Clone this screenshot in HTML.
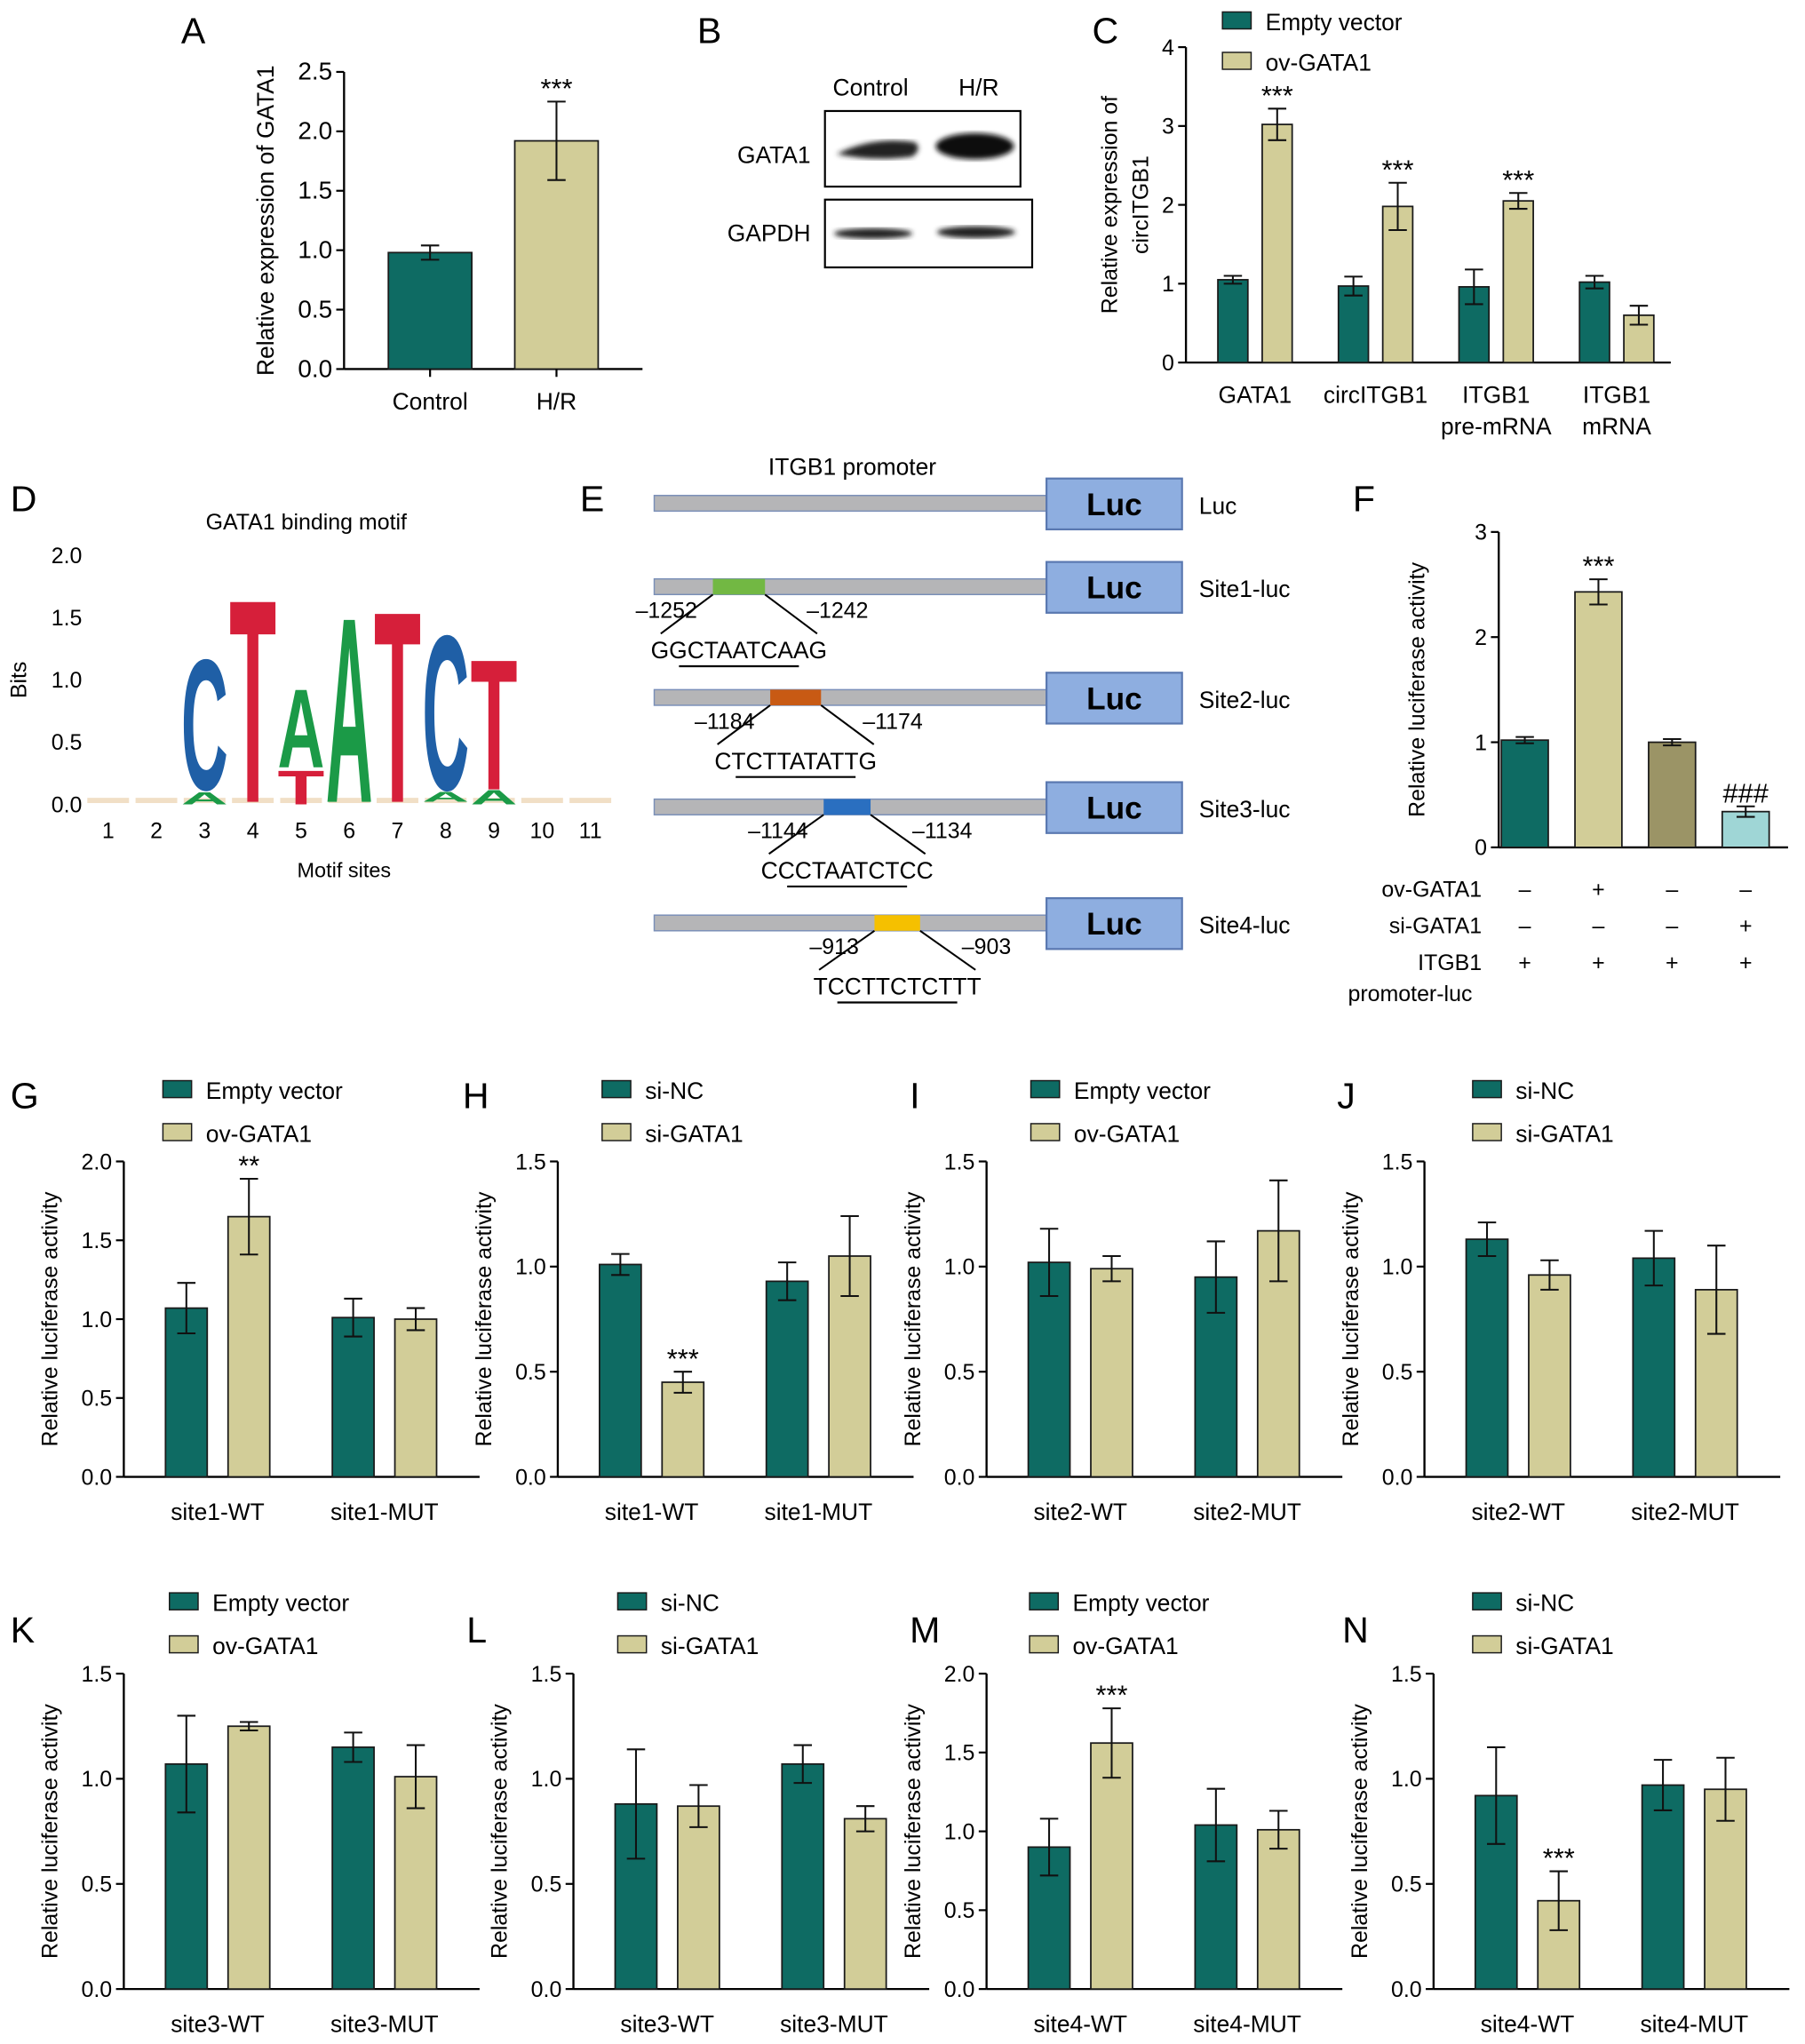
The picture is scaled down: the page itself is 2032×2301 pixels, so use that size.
<!DOCTYPE html>
<html><head><meta charset="utf-8"><style>
html,body{margin:0;padding:0;background:#fff;}
svg{display:block;font-family:"Liberation Sans",Arial,sans-serif;}
</style></head><body>
<svg id="fig" width="2032" height="2301" viewBox="0 0 1385 1568" xmlns="http://www.w3.org/2000/svg">
<rect width="1385" height="1568" fill="#fff"/>
<g>
<text x="535" y="33" font-size="28">B</text>
<text x="668" y="73" font-size="18" text-anchor="middle">Control</text>
<text x="751" y="73" font-size="18" text-anchor="middle">H/R</text>
<text x="622" y="125" font-size="18" text-anchor="end">GATA1</text>
<text x="622" y="185" font-size="18" text-anchor="end">GAPDH</text>
<rect x="633" y="85" width="150" height="58" fill="#fff" stroke="#000" stroke-width="1.5"/>
<rect x="633" y="153" width="159" height="52" fill="#fff" stroke="#000" stroke-width="1.5"/>
<defs><filter id="bl"><feGaussianBlur stdDeviation="2"/></filter></defs>
<path d="M642,118 Q670,104 702,109 Q708,114 700,120 Q670,124 642,118Z" fill="#222" filter="url(#bl)"/>
<ellipse cx="748" cy="112" rx="30" ry="10" fill="#111" filter="url(#bl)"/>
<ellipse cx="670" cy="179" rx="30" ry="4" fill="#222" filter="url(#bl)"/>
<ellipse cx="749" cy="178" rx="30" ry="4.5" fill="#222" filter="url(#bl)"/>
</g>
<g id="charts"></g>
</svg>
<script>
const NS="http://www.w3.org/2000/svg";
const root=document.getElementById('charts');
const TEAL="#0e6b63",KHAKI="#d2cd98",OLIVE="#9b9466",LBLUE="#9fd6d6";

// ---- Panel A data
const aCats=["Control","H/R"];
const aVals=[0.98,1.92];
const aErrs=[0.06,0.33];
const aStars=["","***"];
// ---- Panel C data
const cCats=["GATA1","circITGB1","ITGB1\npre-mRNA","ITGB1\nmRNA"];
const cEmpty=[1.05,0.97,0.96,1.02];
const cEmptyErr=[0.05,0.12,0.22,0.08];
const cOv=[3.02,1.98,2.05,0.6];
const cOvErr=[0.2,0.3,0.1,0.12];
const cStars=["***","***","***",""];
// ---- Panel F data
const fVals=[1.02,2.43,1.0,0.34];
const fErrs=[0.03,0.12,0.03,0.05];
const fMarks=["","***","","###"];
const fOv=["–","+","–","–"];
const fSi=["–","–","–","+"];
const fProm=["+","+","+","+"];
// ---- Panels G-N data
const gCats=["site1-WT","site1-MUT"],gA=[1.07,1.01],gAe=[0.16,0.12],gB=[1.65,1.0],gBe=[0.24,0.07],gS=["**",""];
const hCats=["site1-WT","site1-MUT"],hA=[1.01,0.93],hAe=[0.05,0.09],hB=[0.45,1.05],hBe=[0.05,0.19],hS=["***",""];
const iCats=["site2-WT","site2-MUT"],iA=[1.02,0.95],iAe=[0.16,0.17],iB=[0.99,1.17],iBe=[0.06,0.24],iS=["",""];
const jCats=["site2-WT","site2-MUT"],jA=[1.13,1.04],jAe=[0.08,0.13],jB=[0.96,0.89],jBe=[0.07,0.21],jS=["",""];
const kCats=["site3-WT","site3-MUT"],kA=[1.07,1.15],kAe=[0.23,0.07],kB=[1.25,1.01],kBe=[0.02,0.15],kS=["",""];
const lCats=["site3-WT","site3-MUT"],lA=[0.88,1.07],lAe=[0.26,0.09],lB=[0.87,0.81],lBe=[0.1,0.06],lS=["",""];
const mCats=["site4-WT","site4-MUT"],mA=[0.9,1.04],mAe=[0.18,0.23],mB=[1.56,1.01],mBe=[0.22,0.12],mS=["***",""];
const nCats=["site4-WT","site4-MUT"],nA=[0.92,0.97],nAe=[0.23,0.12],nB=[0.42,0.95],nBe=[0.14,0.15],nS=["***",""];
// ---- Panel D motif data
const motifPos=[1,2,3,4,5,6,7,8,9,10,11];
const motifLetters=[["C",3,0.12,1.2],["T",4,0.02,1.7],["A",5,0.3,0.95],["T",5,0.0,0.28],["A",6,0.02,1.55],["T",7,0.02,1.6],["C",8,0.12,1.4],["T",9,0.12,1.2],["A",9,0.0,0.12],["A",3,0.0,0.1],["A",8,0.02,0.1]];
const motifTicks=[0,0.5,1.0,1.5,2.0];

function el(tag,attrs,parent,text){const e=document.createElementNS(NS,tag);for(const k in attrs)e.setAttribute(k,attrs[k]);if(text!==undefined)e.textContent=text;(parent||root).appendChild(e);return e;}
function fmt(v,d){return v.toFixed(d);}

function axes(g,o){
  const ys=v=>o.y0-v/o.max*(o.y0-o.ytop);
  el('line',{x1:o.ax,y1:o.y0,x2:o.ax,y2:o.ytop,stroke:'#000','stroke-width':1.6},g);
  el('line',{x1:o.ax,y1:o.y0,x2:o.x1,y2:o.y0,stroke:'#000','stroke-width':1.6},g);
  for(let v=0;v<=o.max+1e-9;v+=o.step){
    el('line',{x1:o.ax-6,y1:ys(v),x2:o.ax,y2:ys(v),stroke:'#000','stroke-width':1.5},g);
    const t=el('text',{x:o.ax-9,y:ys(v)+6,'font-size':o.tfs||17,'text-anchor':'end'},g,fmt(v,o.dec));
    
    
  }
  const lines=o.ylabel.split("\n");
  lines.forEach((ln,i)=>{
    const lx=o.ylx+i*24, ly=(o.y0+o.ytop)/2;
    const t=el('text',{x:lx,y:ly,'font-size':o.lfs||17,'text-anchor':'middle',transform:`rotate(-90 ${lx} ${ly})`},g,ln);
    
    
  });
  return ys;
}
function bar(g,ys,cx,w,v,e,color,star){
  const r=el('rect',{x:cx-w/2,y:ys(v),width:w,height:ys(0)-ys(v),fill:color,stroke:'#1a1a1a','stroke-width':1.2},g);
  
  
  if(e>0){
    el('line',{x1:cx,y1:ys(v-e),x2:cx,y2:ys(v+e),stroke:'#111','stroke-width':1.4},g);
    el('line',{x1:cx-7,y1:ys(v+e),x2:cx+7,y2:ys(v+e),stroke:'#111','stroke-width':1.4},g);
    el('line',{x1:cx-7,y1:ys(v-e),x2:cx+7,y2:ys(v-e),stroke:'#111','stroke-width':1.4},g);
  }
  if(star){
    const t=el('text',{x:cx,y:ys(v+e)-3,'font-size':21,'text-anchor':'middle'},g,star);
    
    
  }
}
function letter(x,y,L,name){
  const t=el('text',{x:x,y:y,'font-size':28},root,L);
  
  
}
function legend(g,x,y1,y2,l1,l2){
  [[y1,TEAL,l1],[y2,KHAKI,l2]].forEach(([y,c,l])=>{
    const r=el('rect',{x:x,y:y-7,width:22,height:13,fill:c,stroke:'#1a1a1a','stroke-width':1},g);
    
    
    const t=el('text',{x:x+33,y:y+7,'font-size':18},g,l);
    
    
  });
}

// Panel A
(function(){
  const g=el('g',{});
  
  
  letter(139,33,'A','panel-letter-a');
  const o={ax:264,x1:493,y0:283,ytop:55,max:2.5,step:0.5,dec:1,ylabel:"Relative expression of GATA1",ylx:210,tfs:19,lfs:18};
  const ys=axes(g,o);
  aVals.forEach((v,i)=>{
    const cx=o.ax+66+i*97;
    bar(g,ys,cx,64,v,aErrs[i],i?KHAKI:TEAL,aStars[i]);
    el('line',{x1:cx,y1:o.y0,x2:cx,y2:o.y0+6,stroke:'#000','stroke-width':1.5},g);
    const t=el('text',{x:cx,y:o.y0+31,'font-size':18,'text-anchor':'middle'},g,aCats[i]);
    
    
  });
})();

// Panel C
(function(){
  const g=el('g',{});
  
  
  letter(838,33,'C','panel-letter-c');
  const o={ax:910,x1:1282,y0:278,ytop:36,max:4,step:1,dec:0,ylabel:"Relative expression of\ncircITGB1",ylx:857};
  const ys=axes(g,o);
  legend(g,938,16,47,"Empty vector","ov-GATA1");
  cCats.forEach((c,i)=>{
    const gc=o.ax+53+i*92.5;
    bar(g,ys,gc-17,23,cEmpty[i],cEmptyErr[i],TEAL,"");
    bar(g,ys,gc+17,23,cOv[i],cOvErr[i],KHAKI,cStars[i]);
    c.split("\n").forEach((ln,j)=>{
      const t=el('text',{x:gc,y:o.y0+31+j*24,'font-size':18,'text-anchor':'middle'},g,ln);
      
      
    });
  });
})();

// Panel D motif
(function(){
  const g=el('g',{});
  
  
  letter(8,392,'D','panel-letter-d');
  el('text',{x:235,y:406,'font-size':17,'text-anchor':'middle',},g,'GATA1 binding motif');
  const y0=617,ytop=426,ys=v=>y0-v/2*(y0-ytop);
  const xs=p=>83+(p-1)*37.0;
  motifTicks.forEach(v=>{
    const t=el('text',{x:63,y:ys(v)+6,'font-size':17,'text-anchor':'end'},g,v.toFixed(1));
    
    
  });
  motifPos.forEach(p=>{
    const t=el('text',{x:xs(p),y:643,'font-size':17,'text-anchor':'middle'},g,String(p));
    
    
    el('rect',{x:xs(p)-16,y:y0-5,width:32,height:4,fill:'#e8c9a0',opacity:0.6},g);
  });
  const t2=el('text',{x:20,y:(y0+ytop)/2,'font-size':17,'text-anchor':'middle',transform:`rotate(-90 20 ${(y0+ytop)/2})`},g,'Bits');
  
  
  el('text',{x:264,y:673,'font-size':16,'text-anchor':'middle',},g,'Motif sites');
  const col={A:'#1b9a47',C:'#1f5fa6',T:'#d61f3a'};
  motifLetters.forEach(([L,p,lo,hi])=>{
    const h=ys(lo)-ys(hi);
    const t=el('text',{x:xs(p)-18,y:ys(lo),'font-size':h/0.72,'font-weight':'bold',fill:col[L],textLength:36,lengthAdjust:'spacingAndGlyphs'},g,L);
    
    
  });
})();

// Panel E schematic
(function(){
  const g=el('g',{});
  
  
  letter(445,392,'E','panel-letter-e');
  el('text',{x:654,y:364,'font-size':18,'text-anchor':'middle',},g,'ITGB1 promoter');
  const rows=[[386,null,null,'Luc','','',''],[450,547,587,'Site1-luc','#72b843','–1252','–1242','GGCTAATCAAG'],[535,591,630,'Site2-luc','#c85a14','–1184','–1174','CTCTTATATTG'],[619,632,668,'Site3-luc','#2a6fc0','–1144','–1134','CCCTAATCTCC'],[708,671,706,'Site4-luc','#f5c000','–913','–903','TCCTTCTCTTT']];
  rows.forEach((r,i)=>{
    const [y,s0,s1,lab,c,n1,n2,seq]=r;
    el('rect',{x:502,y:y-6,width:301,height:12,fill:'#b5b5b7',stroke:'#7a8fb8','stroke-width':1},g);
    const b=el('rect',{x:803,y:y-19,width:104,height:39,fill:'#8eaee0',stroke:'#5a78b0','stroke-width':1.5},g);
    
    
    el('text',{x:855,y:y+9,'font-size':24,'font-weight':'bold','text-anchor':'middle'},g,'Luc');
    const t=el('text',{x:920,y:y+8,'font-size':18},g,lab);
    
    
    if(s0){
      el('rect',{x:s0,y:y-6,width:s1-s0,height:12,fill:c},g);
      const sx=(s0+s1)/2, ty=y+48;
      el('line',{x1:s0,y1:y+6,x2:sx-60,y2:ty-12,stroke:'#000','stroke-width':1.4},g);
      el('line',{x1:s1,y1:y+6,x2:sx+60,y2:ty-12,stroke:'#000','stroke-width':1.4},g);
      el('text',{x:s0-12,y:y+24,'font-size':17,'text-anchor':'end'},g,n1);
      el('text',{x:s1+32,y:y+24,'font-size':17},g,n2);
      const st=el('text',{x:sx,y:ty+7,'font-size':18,'text-anchor':'middle'},g,seq);
      
      
      el('line',{x1:sx-46,y1:ty+13,x2:sx+46,y2:ty+13,stroke:'#000','stroke-width':1.5},g);
    }
  });
})();

// Panel F
(function(){
  const g=el('g',{});
  
  
  letter(1038,392,'F','panel-letter-f');
  const o={ax:1150,x1:1372,y0:650,ytop:408,max:3,step:1,dec:0,ylabel:"Relative luciferase activity",ylx:1093};
  const ys=axes(g,o);
  const cols=[TEAL,KHAKI,OLIVE,LBLUE];
  fVals.forEach((v,i)=>{
    const cx=o.ax+20+i*56.5;
    bar(g,ys,cx,36,v,fErrs[i],cols[i],fMarks[i]);
    [[fOv,688],[fSi,716],[fProm,744]].forEach(([arr,y])=>el('text',{x:cx,y:y,'font-size':17,'text-anchor':'middle'},g,arr[i]));
  });
  [['ov-GATA1',688],['si-GATA1',716],['ITGB1',744]].forEach(([l,y])=>{
    const t=el('text',{x:1137,y:y,'font-size':17,'text-anchor':'end'},g,l);
    
    
  });
  el('text',{x:1082,y:768,'font-size':17,'text-anchor':'middle'},g,'promoter-luc');
})();

// Panels G-N
function small(cfg){
  const g=el('g',{});
  
  
  letter(cfg.lx,cfg.ly,cfg.L,'panel-letter-'+cfg.L.toLowerCase());
  const o={ax:cfg.ax,x1:cfg.ax+273,y0:cfg.y0,ytop:cfg.y0-242,max:cfg.max,step:0.5,dec:1,ylabel:"Relative luciferase activity",ylx:cfg.ax-51};
  const ys=axes(g,o);
  legend(g,cfg.legx,cfg.y0-297,cfg.y0-264,cfg.l1,cfg.l2);
  cfg.cats.forEach((c,i)=>{
    const gc=o.ax+72+i*128;
    bar(g,ys,gc-24,32,cfg.A[i],cfg.Ae[i],TEAL,"");
    bar(g,ys,gc+24,32,cfg.B[i],cfg.Be[i],KHAKI,cfg.S[i]);
    const t=el('text',{x:gc,y:o.y0+33,'font-size':18,'text-anchor':'middle'},g,c);
    
    
  });
}
const EV=["Empty vector","ov-GATA1"],SN=["si-NC","si-GATA1"];
small({name:'panel-g-chart',L:'G',lx:8,ly:850,ax:95,y0:1133,max:2,cats:gCats,A:gA,Ae:gAe,B:gB,Be:gBe,S:gS,legx:125,l1:EV[0],l2:EV[1]});
small({name:'panel-h-chart',L:'H',lx:355,ly:850,ax:428,y0:1133,max:1.5,cats:hCats,A:hA,Ae:hAe,B:hB,Be:hBe,S:hS,legx:462,l1:SN[0],l2:SN[1]});
small({name:'panel-i-chart',L:'I',lx:698,ly:850,ax:757,y0:1133,max:1.5,cats:iCats,A:iA,Ae:iAe,B:iB,Be:iBe,S:iS,legx:791,l1:EV[0],l2:EV[1]});
small({name:'panel-j-chart',L:'J',lx:1026,ly:850,ax:1093,y0:1133,max:1.5,cats:jCats,A:jA,Ae:jAe,B:jB,Be:jBe,S:jS,legx:1130,l1:SN[0],l2:SN[1]});
small({name:'panel-k-chart',L:'K',lx:8,ly:1260,ax:95,y0:1526,max:1.5,cats:kCats,A:kA,Ae:kAe,B:kB,Be:kBe,S:kS,legx:130,l1:EV[0],l2:EV[1]});
small({name:'panel-l-chart',L:'L',lx:358,ly:1260,ax:440,y0:1526,max:1.5,cats:lCats,A:lA,Ae:lAe,B:lB,Be:lBe,S:lS,legx:474,l1:SN[0],l2:SN[1]});
small({name:'panel-m-chart',L:'M',lx:698,ly:1260,ax:757,y0:1526,max:2,cats:mCats,A:mA,Ae:mAe,B:mB,Be:mBe,S:mS,legx:790,l1:EV[0],l2:EV[1]});
small({name:'panel-n-chart',L:'N',lx:1030,ly:1260,ax:1100,y0:1526,max:1.5,cats:nCats,A:nA,Ae:nAe,B:nB,Be:nBe,S:nS,legx:1130,l1:SN[0],l2:SN[1]});
</script>
</body></html>
